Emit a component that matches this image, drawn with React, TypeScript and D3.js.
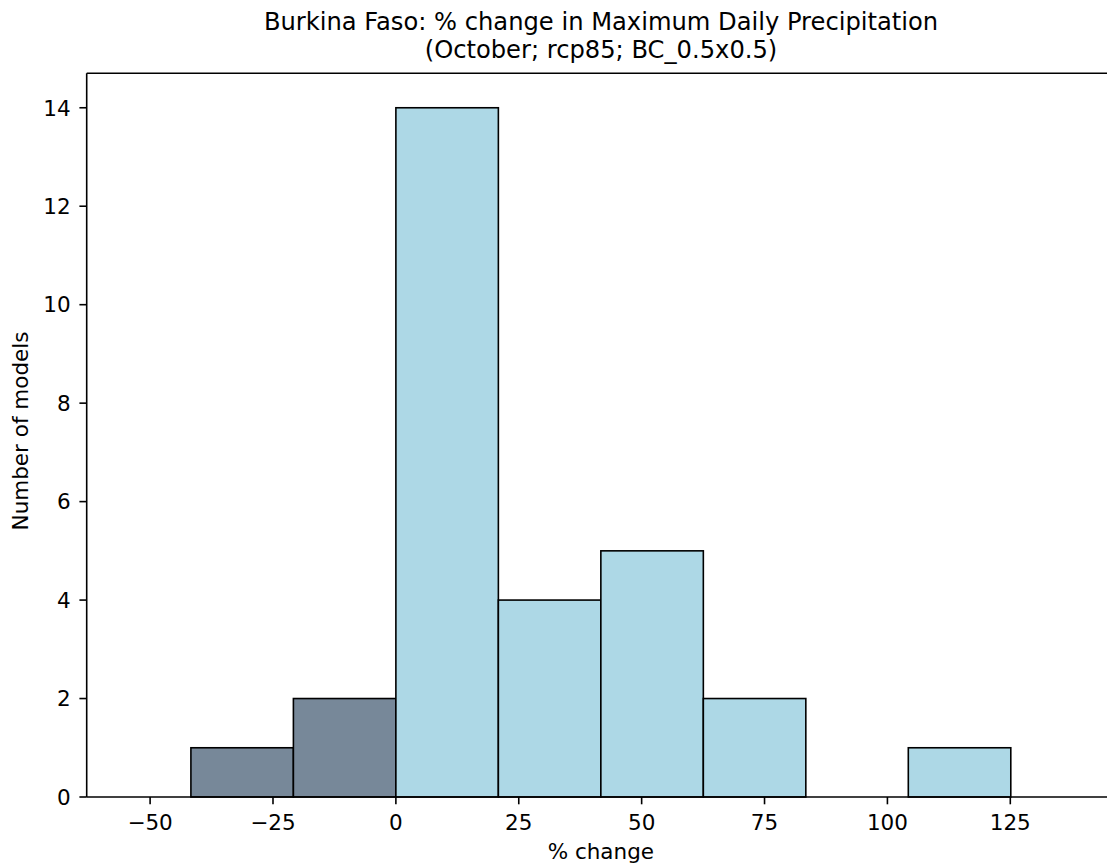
import React from "react";
import * as d3 from "d3";

const binEdges = [-41.7, -20.85, 0, 20.85, 41.7, 62.55, 83.4, 104.25, 125.1];
const counts = [1, 2, 14, 4, 5, 2, 0, 1];
const xTicks = [-50, -25, 0, 25, 50, 75, 100, 125];
const yTicks = [0, 2, 4, 6, 8, 10, 12, 14];
const titleLines = [
  "Burkina Faso: % change in Maximum Daily Precipitation",
  "(October; rcp85; BC_0.5x0.5)",
];
const xLabel = "% change";
const yLabel = "Number of models";

const W = 1107;
const H = 867;
const left = 86.7;
const right = 1115;
const top = 73.3;
const bottom = 797;
const font = "DejaVu Sans";
const fs = 21.5;
const tick = 7.3;

export default function App() {
  const x = d3.scaleLinear().domain([-62.9, 146.3]).range([left, right]);
  const y = d3.scaleLinear().domain([0, 14.7]).range([bottom, top]);
  const bars = counts.map((c, i) => ({
    x0: binEdges[i],
    x1: binEdges[i + 1],
    c,
  }));
  const cx = (left + right) / 2;
  return (
    <svg
      width={W}
      height={H}
      style={{ position: "absolute", left: 0, top: 0, background: "#fff" }}
      fontFamily={font}
    >
      <rect x={0} y={0} width={W} height={H} fill="#fff" />
      {bars
        .filter((b) => b.c > 0)
        .map((b, i) => (
          <rect
            key={i}
            x={x(b.x0)}
            y={y(b.c)}
            width={x(b.x1) - x(b.x0)}
            height={y(0) - y(b.c)}
            fill={b.x0 < 0 ? "#778899" : "#ADD8E6"}
            stroke="#000"
            strokeWidth={1.6}
          />
        ))}
      <line x1={left} x2={left} y1={top} y2={bottom} stroke="#000" strokeWidth={1.6} />
      <line x1={left} x2={right} y1={top} y2={top} stroke="#000" strokeWidth={1.6} />
      <line x1={left} x2={right} y1={bottom} y2={bottom} stroke="#000" strokeWidth={1.6} />
      {xTicks.map((t) => (
        <g key={t}>
          <line x1={x(t)} x2={x(t)} y1={bottom} y2={bottom + tick} stroke="#000" strokeWidth={1.6} />
          <text x={x(t)} y={830} textAnchor="middle" fontSize={fs} fill="#000">
            {t < 0 ? "\u2212" + Math.abs(t) : String(t)}
          </text>
        </g>
      ))}
      {yTicks.map((t) => (
        <g key={t}>
          <line x1={left - tick} x2={left} y1={y(t)} y2={y(t)} stroke="#000" strokeWidth={1.6} />
          <text
            x={left - 16}
            y={y(t)}
            dy="0.36em"
            textAnchor="end"
            fontSize={fs}
            fill="#000"
          >
            {t}
          </text>
        </g>
      ))}
      <text x={cx} y={859} textAnchor="middle" fontSize={fs} fill="#000">
        {xLabel}
      </text>
      <text
        transform={`translate(28, 431) rotate(-90)`}
        textAnchor="middle"
        fontSize={fs}
        fill="#000"
      >
        {yLabel}
      </text>
      {titleLines.map((l, i) => (
        <text key={i} x={601} y={30 + i * 28} textAnchor="middle" fontSize={24.2} fill="#000">
          {l}
        </text>
      ))}
    </svg>
  );
}
